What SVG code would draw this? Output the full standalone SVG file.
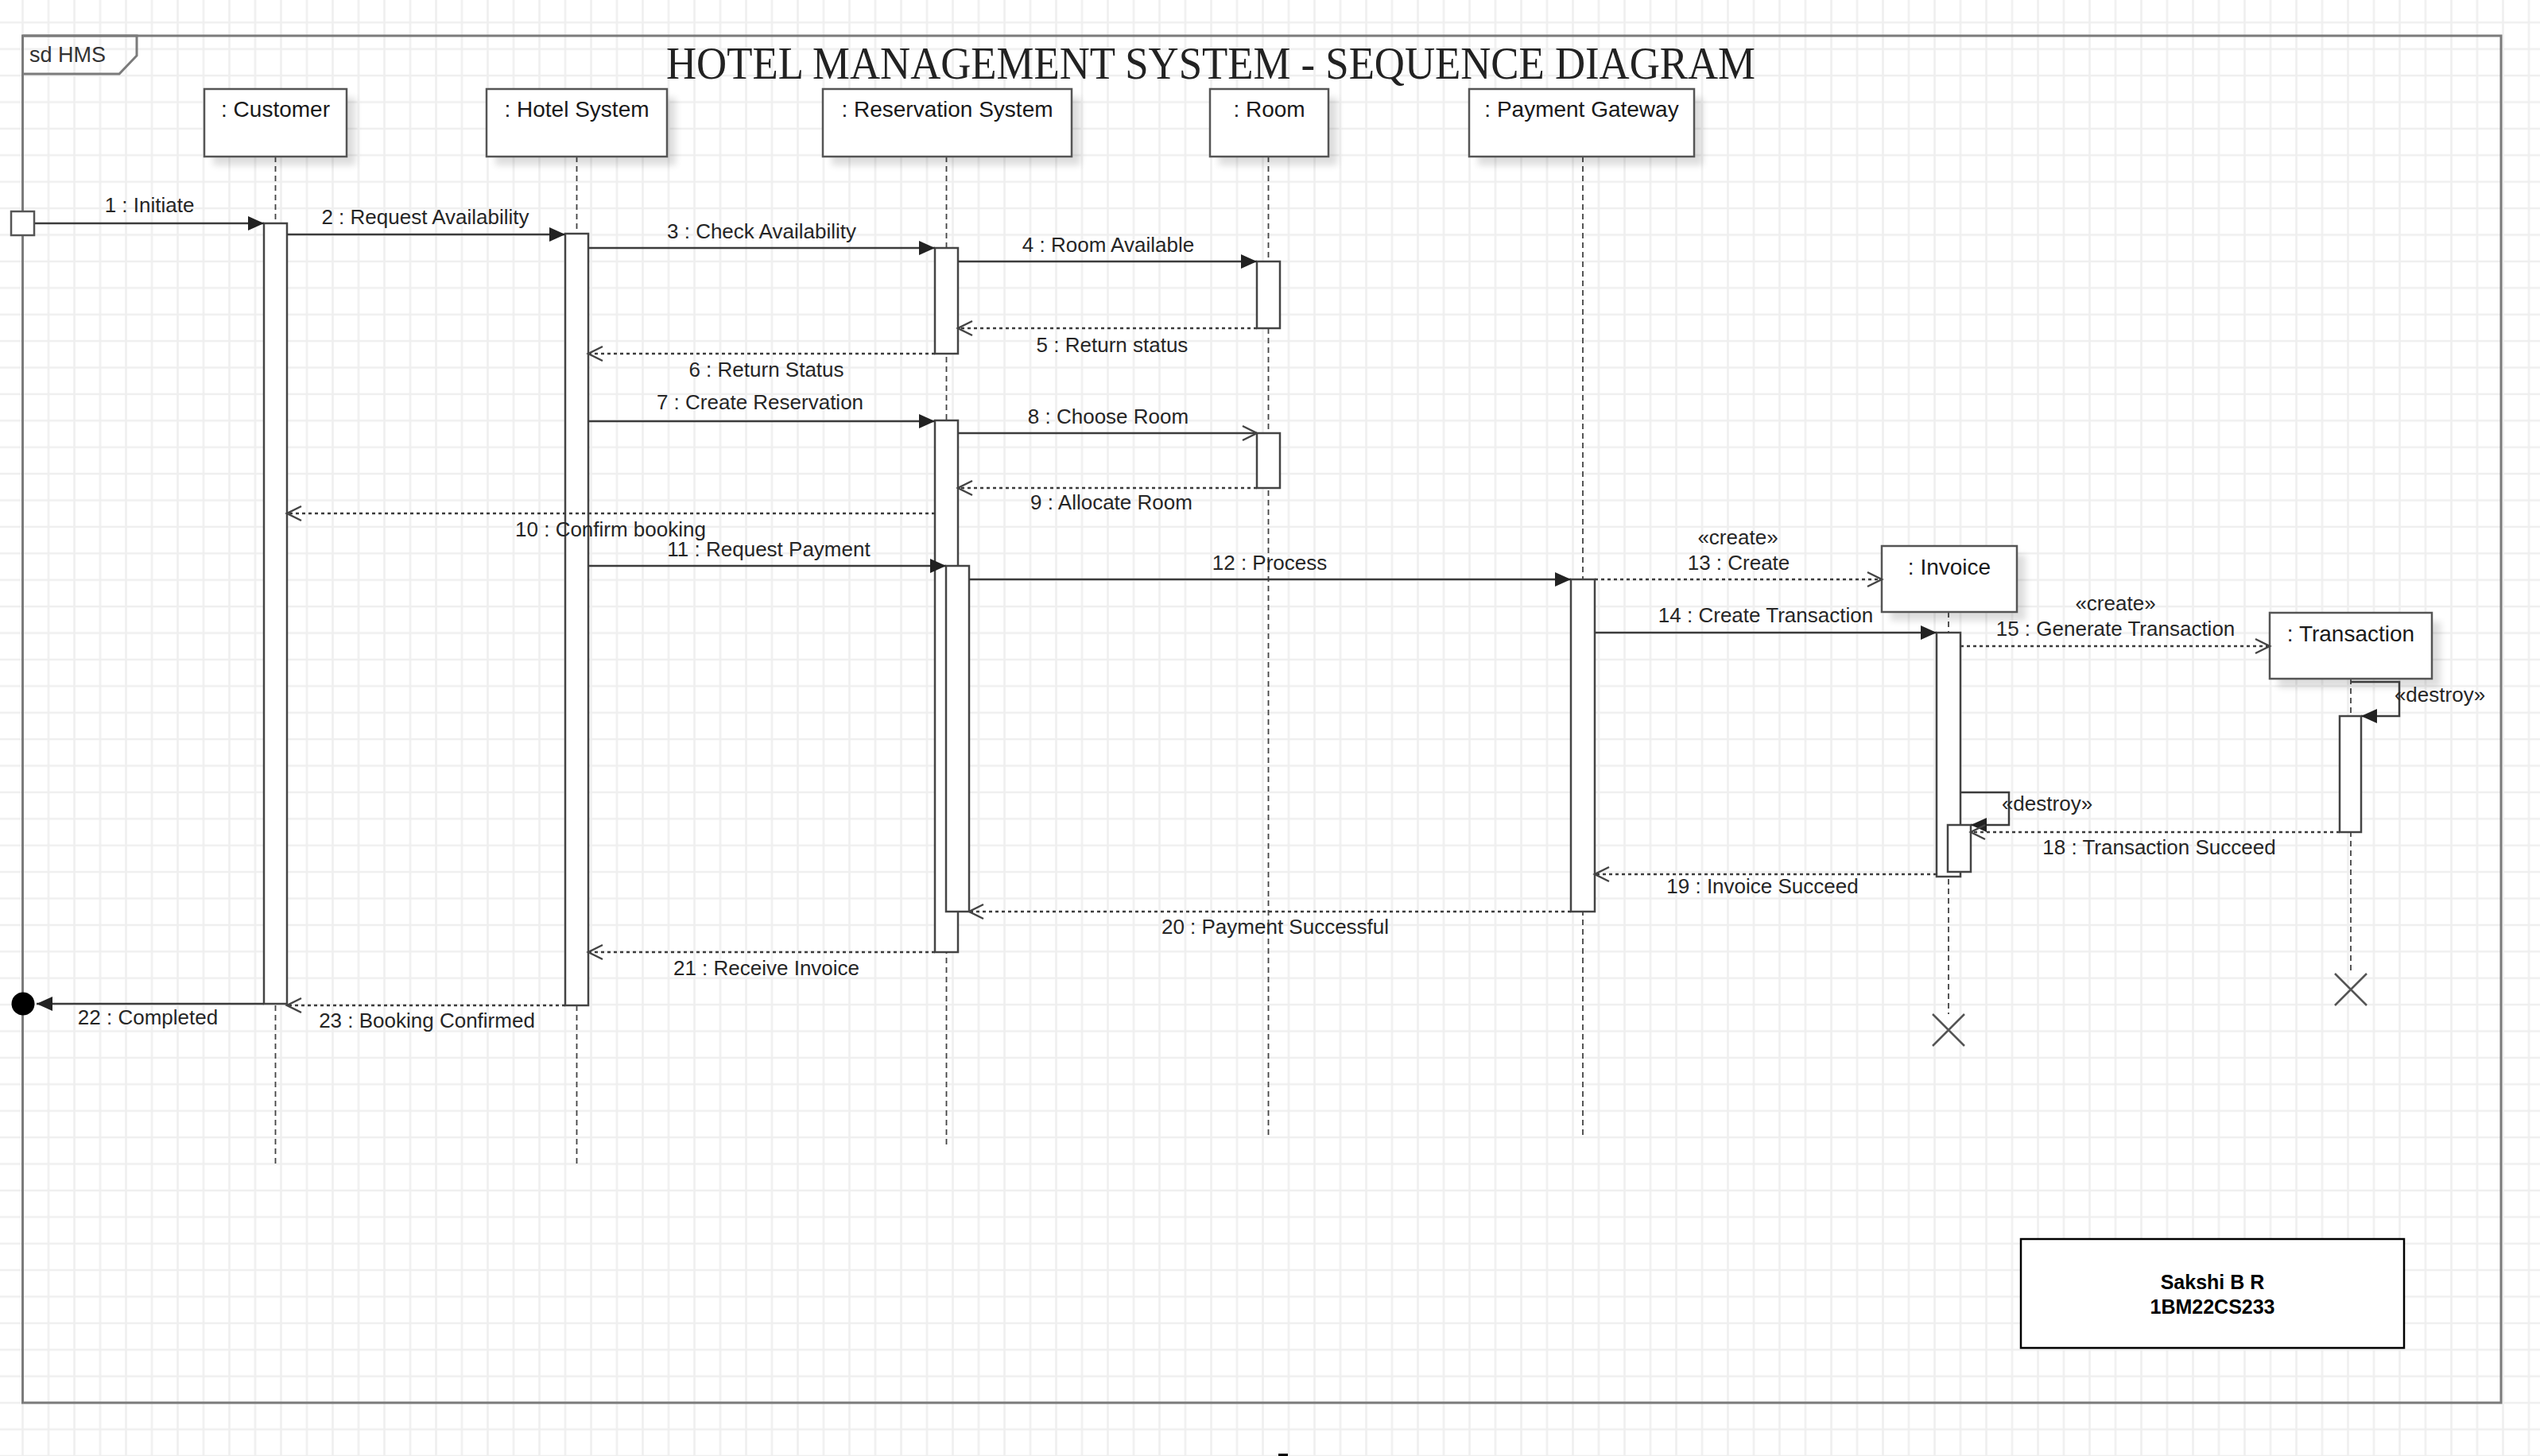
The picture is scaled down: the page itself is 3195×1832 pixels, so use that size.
<svg xmlns="http://www.w3.org/2000/svg" width="3195" height="1832" viewBox="0 0 3195 1832">
<style>
.frame{fill:none;stroke:#7b7b7b;stroke-width:3}
.hdr{fill:#fff;stroke:#555;stroke-width:2.5}
.shadow{fill:#000;opacity:.13}
.act{fill:#fff;stroke:#444;stroke-width:2.5}
.life{stroke:#444;stroke-width:1.8;stroke-dasharray:7 5;fill:none}
.msg{stroke:#3c3c3c;stroke-width:2.5;fill:none}
.ret{stroke:#3c3c3c;stroke-width:2.5;stroke-dasharray:4 4;fill:none}
.lbl{font-family:"Liberation Sans",Arial,sans-serif;font-size:26px;fill:#262626;text-anchor:middle}
.hname{font-family:"Liberation Sans",Arial,sans-serif;font-size:28px;fill:#1a1a1a;text-anchor:middle}
.xm{stroke:#555;stroke-width:2.5;fill:none}
</style>
<defs>
<pattern id="grid" patternUnits="userSpaceOnUse" x="12.25" y="11.6" width="32.5" height="33.4">
<path d="M16.25 0V33.4M0 16.7H32.5" stroke="#efefef" stroke-width="2.5" fill="none"/>
</pattern>
<filter id="blur" x="-20%" y="-20%" width="140%" height="140%"><feGaussianBlur stdDeviation="4"/></filter>
<marker id="fa" markerUnits="userSpaceOnUse" markerWidth="22" markerHeight="20" refX="20" refY="9" orient="auto" overflow="visible"><path d="M0 0L20 9L0 18Z" fill="#222"/></marker>
<marker id="oa" markerUnits="userSpaceOnUse" markerWidth="24" markerHeight="24" refX="20" refY="10" orient="auto" overflow="visible"><path d="M2 1L20 10L2 19" fill="none" stroke="#444" stroke-width="2.5"/></marker>
</defs>
<rect x="0" y="0" width="3195" height="1832" fill="#fff"/>
<rect x="0" y="0" width="3195" height="1832" fill="url(#grid)"/>
<g id="frame">
<path class="frame" d="M28.5 45H3146V1765H28.5Z"/>
<path class="frame" d="M28.5 45H172V70L150 93H28.5"/>
<text x="37" y="78" font-family="Liberation Sans,Arial,sans-serif" font-size="27" fill="#333">sd HMS</text>
</g>
<text id="title" x="838" y="99" font-family="Liberation Serif,Times New Roman,serif" font-size="56" fill="#222" textLength="1370" lengthAdjust="spacingAndGlyphs">HOTEL MANAGEMENT SYSTEM - SEQUENCE DIAGRAM</text>

<g id="lifelines">
<path class="life" d="M346.5 197V1468M725.5 197V1468M1190.5 197V1443M1595.5 197V1432M1991 197V1432M2451 770V1276M2957 854V1225"/>
</g>

<g id="customer">
<rect class="shadow" x="268" y="123" width="179" height="85" filter="url(#blur)"/>
<rect class="hdr" x="257" y="112" width="179" height="85"/>
<text class="hname" x="346.5" y="147">: Customer</text>
<rect class="act" x="332" y="281" width="29" height="982"/>
</g>
<g id="hotel-system">
<rect class="shadow" x="623" y="123" width="227" height="85" filter="url(#blur)"/>
<rect class="hdr" x="612" y="112" width="227" height="85"/>
<text class="hname" x="725.5" y="147">: Hotel System</text>
<rect class="act" x="711" y="294" width="29" height="971"/>
</g>
<g id="reservation-system">
<rect class="shadow" x="1046" y="123" width="313" height="85" filter="url(#blur)"/>
<rect class="hdr" x="1035" y="112" width="313" height="85"/>
<text class="hname" x="1191.5" y="147">: Reservation System</text>
<rect class="act" x="1176" y="312" width="29" height="133"/>
<rect class="act" x="1176" y="529" width="29" height="669"/>
<rect class="act" x="1190" y="712" width="29" height="435"/>
</g>
<g id="room">
<rect class="shadow" x="1533" y="123" width="149" height="85" filter="url(#blur)"/>
<rect class="hdr" x="1522" y="112" width="149" height="85"/>
<text class="hname" x="1596.5" y="147">: Room</text>
<rect class="act" x="1581" y="329" width="29" height="84"/>
<rect class="act" x="1581" y="545" width="29" height="69"/>
</g>
<g id="payment-gateway">
<rect class="shadow" x="1859" y="123" width="283" height="85" filter="url(#blur)"/>
<rect class="hdr" x="1848" y="112" width="283" height="85"/>
<text class="hname" x="1989.5" y="147">: Payment Gateway</text>
<rect class="act" x="1976" y="729" width="30" height="418"/>
</g>
<g id="invoice">
<rect class="shadow" x="2378" y="698" width="170" height="83" filter="url(#blur)"/>
<rect class="hdr" x="2367" y="687" width="170" height="83"/>
<text class="hname" x="2452" y="723">: Invoice</text>
<rect class="act" x="2436" y="796" width="30" height="307"/>
<rect class="act" x="2450" y="1038" width="29" height="59"/>
<path class="xm" d="M2431 1276L2471 1316M2471 1276L2431 1316"/>
</g>
<g id="transaction">
<rect class="shadow" x="2866" y="782" width="204" height="83" filter="url(#blur)"/>
<rect class="hdr" x="2855" y="771" width="204" height="83"/>
<text class="hname" x="2957" y="807">: Transaction</text>
<rect class="act" x="2943" y="901" width="27" height="146"/>
<path class="xm" d="M2937 1225L2977 1265M2977 1225L2937 1265"/>
</g>
<g id="found-lost">
<rect x="14" y="266" width="29" height="30" fill="#fff" stroke="#555" stroke-width="2.5"/>
<circle cx="29" cy="1263" r="14.5" fill="#000"/>
</g>

<g id="connectors">
<path class="msg" marker-end="url(#fa)" d="M44 281H332"/>
<path class="msg" marker-end="url(#fa)" d="M361 295H711"/>
<path class="msg" marker-end="url(#fa)" d="M740 312H1176"/>
<path class="msg" marker-end="url(#fa)" d="M1205 329H1581"/>
<path class="ret" marker-end="url(#oa)" d="M1581 413H1205"/>
<path class="ret" marker-end="url(#oa)" d="M1176 445H740"/>
<path class="msg" marker-end="url(#fa)" d="M740 530H1176"/>
<path class="msg" marker-end="url(#oa)" d="M1205 545H1581"/>
<path class="ret" marker-end="url(#oa)" d="M1581 614H1205"/>
<path class="ret" marker-end="url(#oa)" d="M1176 646H361"/>
<path class="msg" marker-end="url(#fa)" d="M740 712H1190"/>
<path class="msg" marker-end="url(#fa)" d="M1219 729H1976"/>
<path class="ret" marker-end="url(#oa)" d="M2006 729H2367"/>
<path class="msg" marker-end="url(#fa)" d="M2006 796H2436"/>
<path class="ret" marker-end="url(#oa)" d="M2466 813H2855"/>
<path class="msg" marker-end="url(#fa)" d="M2957 858H3018V901H2970"/>
<path class="msg" marker-end="url(#fa)" d="M2466 997H2527V1038H2479"/>
<path class="ret" marker-end="url(#oa)" d="M2943 1047H2479"/>
<path class="ret" marker-end="url(#oa)" d="M2436 1100H2006"/>
<path class="ret" marker-end="url(#oa)" d="M1976 1147H1219"/>
<path class="ret" marker-end="url(#oa)" d="M1176 1198H740"/>
<path class="msg" marker-end="url(#fa)" d="M332 1263H46"/>
<path class="ret" marker-end="url(#oa)" d="M711 1265H361"/>
</g>

<g id="labels">
<text class="lbl" x="188" y="267">1 : Initiate</text>
<text class="lbl" x="535" y="282">2 : Request Availability</text>
<text class="lbl" x="958" y="300">3 : Check Availability</text>
<text class="lbl" x="1394" y="317">4 : Room Available</text>
<text class="lbl" x="1399" y="443">5 : Return status</text>
<text class="lbl" x="964" y="474">6 : Return Status</text>
<text class="lbl" x="956" y="515">7 : Create Reservation</text>
<text class="lbl" x="1394" y="533">8 : Choose Room</text>
<text class="lbl" x="1398" y="641">9 : Allocate Room</text>
<text class="lbl" x="768" y="675">10 : Confirm booking</text>
<text class="lbl" x="967" y="700">11 : Request Payment</text>
<text class="lbl" x="1597" y="717">12 : Process</text>
<text class="lbl" x="2186" y="685">«create»</text>
<text class="lbl" x="2187" y="717">13 : Create</text>
<text class="lbl" x="2221" y="783">14 : Create Transaction</text>
<text class="lbl" x="2661" y="768">«create»</text>
<text class="lbl" x="2661" y="800">15 : Generate Transaction</text>
<text class="lbl" x="3069" y="883">«destroy»</text>
<text class="lbl" x="2575" y="1020">«destroy»</text>
<text class="lbl" x="2716" y="1075">18 : Transaction Succeed</text>
<text class="lbl" x="2217" y="1124">19 : Invoice Succeed</text>
<text class="lbl" x="1604" y="1175">20 : Payment Successful</text>
<text class="lbl" x="964" y="1227">21 : Receive Invoice</text>
<text class="lbl" x="186" y="1289">22 : Completed</text>
<text class="lbl" x="537" y="1293">23 : Booking Confirmed</text>
</g>

<g id="student">
<rect x="2542" y="1559" width="482" height="137" fill="#fff" stroke="#000" stroke-width="2.5"/>
<text x="2783" y="1622" font-family="Liberation Sans,Arial,sans-serif" font-size="25" font-weight="bold" text-anchor="middle" fill="#000">Sakshi B R</text>
<text x="2783" y="1653" font-family="Liberation Sans,Arial,sans-serif" font-size="25" font-weight="bold" text-anchor="middle" fill="#000">1BM22CS233</text>
</g>
<rect x="1608" y="1829" width="12" height="3" fill="#000"/>
</svg>
